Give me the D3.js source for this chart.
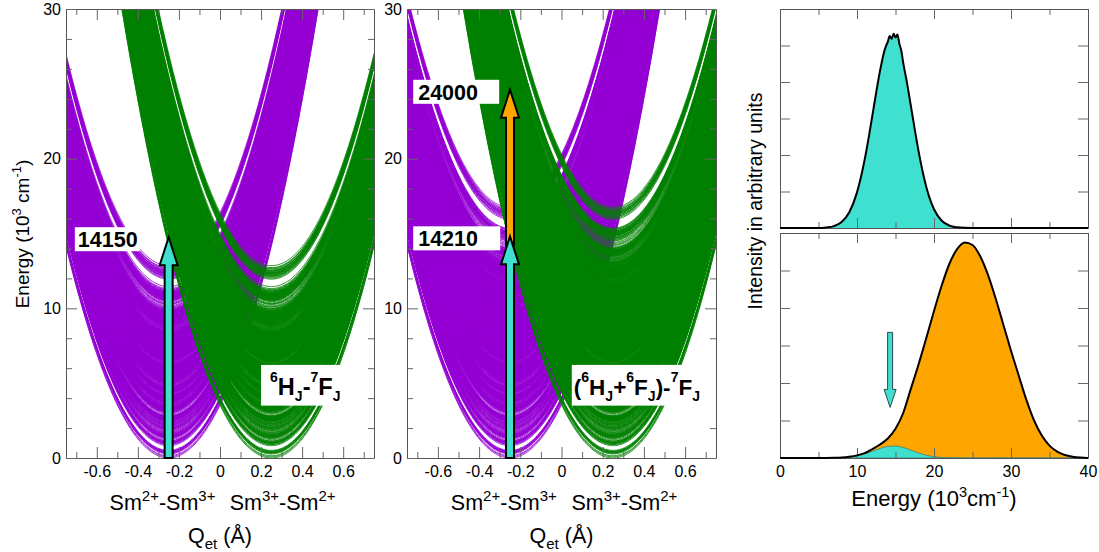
<!DOCTYPE html>
<html><head><meta charset="utf-8">
<script src="https://cdn.jsdelivr.net/npm/d3@7"></script>
<style>
body{margin:0;background:#fff;}
svg text{font-family:"Liberation Sans",Arial,Helvetica,sans-serif;}
</style></head><body>
<svg id="chart" width="1099" height="552"></svg>
<script>
// ---------------- data ----------------
// crystal-field levels, 10^3 cm^-1
const sm3Levels6H = [0.00,0.08,0.15, 1.02,1.08,1.14,1.22, 2.20,2.26,2.31,2.38,2.45,
  3.52,3.58,3.63,3.70,3.76,3.84, 4.95,5.01,5.06,5.13,5.19,5.26,5.35,
  6.40,6.46,6.52,6.60,6.66,6.73,6.82,6.95];
const sm3Levels6F = [6.30, 6.55,6.62, 7.05,7.10,7.18, 7.95,8.00,8.08,8.15,
  9.15,9.20,9.28,9.35,9.42, 10.40,10.48,10.56,10.65,10.75,10.85];
const sm2Levels7F = [0.00, 0.27,0.31,0.36, 0.82,0.90,0.98, 1.48,1.58,1.70,
  2.18,2.32,2.48, 2.98,3.15,3.35, 3.85,4.15,4.50, 5.55,5.72,5.90];
const qMinPurple = -0.25, qMinGreen = 0.25;          // Å
const verticalLeft = 14.15, verticalMiddle = 14.21, upperMiddle = 24.0;
const arrowLabels = ["14150", "14210", "24000"];
const qDomain = [-0.75, 0.75], energyDomain = [0, 30];
const qTicksMajor = [-0.6,-0.4,-0.2,0,0.2,0.4,0.6];
const qTicksMinor = [-0.7,-0.5,-0.3,-0.1,0.1,0.3,0.5,0.7];
const eTicksMajor = [0,10,20,30];
const eTicksMinor = [2,4,6,8,12,14,16,18,22,24,26,28];

// spectra
const specEnergyTop = [0,5,6,7,8,9,10,10.5,11,11.5,12,12.5,13,13.5,13.75,14,14.25,14.5,14.75,15,15.25,15.5,15.75,16,16.5,17,17.5,18,18.5,19,19.5,20,21,22,23,24,25,40];
const specIntensityTop = [0,0,0.014,0.052,0.163,0.431,0.976,1.381,1.879,2.457,3.086,3.724,4.318,4.811,4.98,5.10,5.26,5.18,5.32,5.22,5.30,5.05,4.86,4.53,3.97,3.34,2.70,2.10,1.57,1.126,0.776,0.514,0.200,0.066,0.019,0.004,0,0];
const specEnergyBottom = [0,5,6,7,8,9,10,11,12,13,14,15,16,17,18,19,20,21,22,23,24,25,26,27,28,29,30,31,32,33,34,35,36,37,38,39,40];
const specTotalBottom = [0,0,0.001,0.005,0.015,0.035,0.07,0.13,0.24,0.36,0.52,0.78,1.2,1.85,2.5,3.2,3.92,4.6,5.18,5.57,5.75,5.68,5.38,4.89,4.26,3.56,2.86,2.2,1.55,1.0,0.6,0.33,0.17,0.08,0.035,0.012,0.003];
const specCyanBottom = [0,0,0.0008,0.0028,0.0088,0.024,0.055,0.107,0.179,0.254,0.308,0.318,0.280,0.210,0.134,0.073,0.034,0.013,0.0045,0.0013,0,0,0,0,0,0,0,0,0,0,0,0,0,0,0,0,0];
const specMarker = {energy: 14.3, from: 3.35, to: 1.35};
const specTicksMajor = [0,10,20,30,40], specTicksMinor = [5,15,25,35];
const intensityDomain = [0, 6], intensityTicks = [1,2,3,4,5];

// ---------------- drawing ----------------
const FONT = '"Liberation Sans",Arial,Helvetica,sans-serif';
const PURPLE = "#9400d3", GREEN = "#008000", CYAN = "#40e0d0", ORANGE = "#ffa500";
const svg = d3.select("#chart");
const defs = svg.append("defs");

function styleAxis(g, fontSize) {
  g.attr("font-family", null).attr("font-size", null);
  g.select(".domain").attr("stroke", "#555").attr("stroke-width", 1);
  g.selectAll(".tick line").attr("stroke", "#666").attr("stroke-width", 1);
  g.selectAll(".tick text").attr("fill", "#000").style("font-size", fontSize + "px").style("font-family", FONT);
}
function frameAxes(g, x, y, xMaj, xMin, yMaj, yMin, opts) {
  const [x0, x1] = x.range(), [y1, y0] = y.range();
  const mk = (fn, sc, vals, size, fmt, pad) => fn(sc).tickValues(vals).tickSizeInner(-size).tickSizeOuter(0).tickPadding(pad || 8).tickFormat(fmt || (() => ""));
  const fs = opts.fontSize;
  if (xMin) {
    g.append("g").attr("transform", `translate(0,${y1})`).call(mk(d3.axisBottom, x, xMin, opts.minor)).call(s => { styleAxis(s, fs); s.select(".domain").remove(); });
    g.append("g").attr("transform", `translate(0,${y0})`).call(mk(d3.axisTop, x, xMin, opts.minor)).call(s => { styleAxis(s, fs); s.select(".domain").remove(); });
  }
  if (yMin) {
    g.append("g").attr("transform", `translate(${x0},0)`).call(mk(d3.axisLeft, y, yMin, opts.minor)).call(s => { styleAxis(s, fs); s.select(".domain").remove(); });
    g.append("g").attr("transform", `translate(${x1},0)`).call(mk(d3.axisRight, y, yMin, opts.minor)).call(s => { styleAxis(s, fs); s.select(".domain").remove(); });
  }
  g.append("g").attr("transform", `translate(0,${y1})`).call(mk(d3.axisBottom, x, xMaj, opts.major, opts.xLabels ? (d => String(d)) : null, 8)).call(s => styleAxis(s, fs));
  g.append("g").attr("transform", `translate(0,${y0})`).call(mk(d3.axisTop, x, xMaj, opts.major)).call(s => styleAxis(s, fs));
  g.append("g").attr("transform", `translate(${x0},0)`).call(mk(d3.axisLeft, y, yMaj, opts.major, opts.yLabels ? (d => String(d)) : null, 5)).call(s => styleAxis(s, fs));
  g.append("g").attr("transform", `translate(${x1},0)`).call(mk(d3.axisRight, y, yMaj, opts.major)).call(s => styleAxis(s, fs));
}

function richText(sel, parts, big, small, supShift, subShift) {
  let cur = 0;
  parts.forEach(p => {
    const target = p.s === "sup" ? -supShift : p.s === "sub" ? subShift : 0;
    sel.append("tspan").attr("dy", target - cur).style("font-size", (p.s ? small : big) + "px").text(p.t);
    cur = target;
  });
}

function arrowD(cx, yBase, yTip, sw, hw, hl) {
  const p = d3.path();
  const dir = yTip < yBase ? 1 : -1;
  const yh = yTip + dir * hl;
  p.moveTo(cx - sw, yBase); p.lineTo(cx - sw, yh); p.lineTo(cx - hw, yh);
  p.lineTo(cx, yTip); p.lineTo(cx + hw, yh); p.lineTo(cx + sw, yh); p.lineTo(cx + sw, yBase);
  p.closePath();
  return p.toString();
}

function drawPES(cfg) {
  const x = d3.scaleLinear().domain(qDomain).range([cfg.x0, cfg.x1]);
  const y = d3.scaleLinear().domain(energyDomain).range([458, 9]);
  const g = svg.append("g");
  const clipId = "clip-" + cfg.id;
  defs.append("clipPath").attr("id", clipId).append("rect")
    .attr("x", cfg.x0).attr("y", 9).attr("width", cfg.x1 - cfg.x0).attr("height", 449);
  const k = cfg.vertical / Math.pow(qMinGreen - qMinPurple, 2);   // force constant
  const line = d3.line().x(d => x(d[0])).y(d => y(d[1]));
  if (line.digits) line.digits(1);
  const minima = [];
  cfg.sm3.forEach(a => sm2Levels7F.forEach(b => minima.push(a + b)));
  function curve(q0, e0) {
    const half = Math.sqrt((31 - e0) / k);
    const a = Math.max(-0.77, q0 - half), b = Math.min(0.77, q0 + half);
    const n = Math.ceil((b - a) / 0.012);
    const pts = d3.range(n + 1).map(i => { const q = a + (b - a) * i / n; return [q, e0 + k * (q - q0) * (q - q0)]; });
    return line(pts);
  }
  const cg = g.append("g").attr("clip-path", `url(#${clipId})`);
  [[qMinPurple, PURPLE], [qMinGreen, GREEN]].forEach(([q0, col]) => {
    cg.append("path").attr("d", minima.map(e => curve(q0, e)).join(""))
      .attr("fill", "none").attr("stroke", col).attr("stroke-width", 0.8);
  });
  frameAxes(g, x, y, qTicksMajor, qTicksMinor, eTicksMajor, eTicksMinor,
    {major: 11, minor: 6, fontSize: 16, xLabels: true, yLabels: true});

  const ag = g.append("g");
  cfg.arrows.forEach(a => {
    ag.append("path").attr("d", arrowD(x(qMinPurple), y(a.from), y(a.to) - 9, 4, 9, 28))
      .attr("fill", a.color).attr("stroke", "#000").attr("stroke-width", 2).attr("stroke-linejoin", "miter");
  });
  cfg.labels.forEach(l => {
    const yy = y(l.value);
    g.append("rect").attr("x", x(l.q)).attr("y", yy - 19).attr("width", l.w).attr("height", 24).attr("fill", "#fff");
    g.append("text").attr("x", x(l.q) + l.pad).attr("y", yy + 1).style("font-size", "21.5px").style("font-weight", "bold")
      .attr("fill", "#000").text(l.text);
  });
  const sl = cfg.stateLabel;
  g.append("rect").attr("x", x(sl.q0)).attr("y", y(sl.e1)).attr("width", x(sl.q1) - x(sl.q0)).attr("height", y(sl.e0) - y(sl.e1)).attr("fill", "#fff");
  const st = g.append("text").attr("x", x(sl.q0) + sl.pad).attr("y", 395).style("font-weight", "bold").attr("fill", "#000");
  richText(st, sl.parts, sl.size, 14, 13, 6);

  const t1 = g.append("text").attr("x", x(-0.28)).attr("y", 510).attr("text-anchor", "middle").attr("fill", "#000");
  richText(t1, [{t: "Sm"}, {t: "2+", s: "sup"}, {t: "-Sm"}, {t: "3+", s: "sup"}], 21.5, 15, 9, 0);
  const t2 = g.append("text").attr("x", x(0.305)).attr("y", 510).attr("text-anchor", "middle").attr("fill", "#000");
  richText(t2, [{t: "Sm"}, {t: "3+", s: "sup"}, {t: "-Sm"}, {t: "2+", s: "sup"}], 21.5, 15, 9, 0);
  const t3 = g.append("text").attr("x", x(0)).attr("y", 543).attr("text-anchor", "middle").attr("fill", "#000");
  richText(t3, [{t: "Q"}, {t: "et", s: "sub"}, {t: " (Å)"}], 21.5, 15, 0, 6);
}

drawPES({
  id: "left", x0: 66, x1: 374, sm3: sm3Levels6H, vertical: verticalLeft,
  arrows: [{from: 0, to: verticalLeft, color: CYAN}],
  labels: [{text: arrowLabels[0], value: verticalLeft, q: -0.707, w: 65, pad: 3}],
  stateLabel: {q0: 0.2, q1: 0.607, e0: 3.5, e1: 6.22, pad: 9, size: 23.5,
    parts: [{t: "6", s: "sup"}, {t: "H"}, {t: "J", s: "sub"}, {t: "-"}, {t: "7", s: "sup"}, {t: "F"}, {t: "J", s: "sub"}]}
});
drawPES({
  id: "mid", x0: 407, x1: 716, sm3: sm3Levels6H.concat(sm3Levels6F), vertical: verticalMiddle,
  arrows: [{from: verticalMiddle, to: upperMiddle, color: ORANGE}, {from: 0, to: verticalMiddle, color: CYAN}],
  labels: [{text: arrowLabels[2], value: upperMiddle, q: -0.72, w: 86, pad: 5},
           {text: arrowLabels[1], value: verticalMiddle, q: -0.72, w: 87, pad: 5}],
  stateLabel: {q0: 0.05, q1: 0.75, e0: 3.5, e1: 6.22, pad: 2, size: 22.5,
    parts: [{t: "("}, {t: "6", s: "sup"}, {t: "H"}, {t: "J", s: "sub"}, {t: "+"}, {t: "6", s: "sup"}, {t: "F"}, {t: "J", s: "sub"},
            {t: ")-"}, {t: "7", s: "sup"}, {t: "F"}, {t: "J", s: "sub"}]}
});

const ly = svg.append("text").attr("transform", "translate(29,234) rotate(-90)").attr("text-anchor", "middle").attr("fill", "#000");
richText(ly, [{t: "Energy (10"}, {t: "3", s: "sup"}, {t: " cm"}, {t: "-1", s: "sup"}, {t: ")"}], 19, 13, 8, 0);

// ---------------- spectra ----------------
const xs = d3.scaleLinear().domain([0, 40]).range([780, 1088]);
const yTop = d3.scaleLinear().domain(intensityDomain).range([228, 9]);
const yBot = d3.scaleLinear().domain(intensityDomain).range([458, 233]);
const topData = specEnergyTop.map((e, i) => [e, specIntensityTop[i]]);
const botTotal = specEnergyBottom.map((e, i) => [e, specTotalBottom[i]]);
const botCyan = specEnergyBottom.map((e, i) => [e, specCyanBottom[i]]);

const gt = svg.append("g");
const areaT = d3.area().x(d => xs(d[0])).y0(yTop(0)).y1(d => yTop(d[1])).curve(d3.curveMonotoneX);
const lineT = d3.line().x(d => xs(d[0])).y(d => yTop(d[1])).curve(d3.curveMonotoneX);
gt.append("path").attr("d", areaT(topData)).attr("fill", CYAN);
frameAxes(gt, xs, yTop, specTicksMajor, specTicksMinor, intensityTicks, null, {major: 10, minor: 6, fontSize: 16});
gt.append("path").attr("d", lineT(topData)).attr("fill", "none").attr("stroke", "#000").attr("stroke-width", 2);

const gb = svg.append("g");
const areaB = d3.area().x(d => xs(d[0])).y0(yBot(0)).y1(d => yBot(d[1])).curve(d3.curveMonotoneX);
const lineB = d3.line().x(d => xs(d[0])).y(d => yBot(d[1])).curve(d3.curveMonotoneX);
gb.append("path").attr("d", areaB(botTotal)).attr("fill", ORANGE);
gb.append("path").attr("d", areaB(botCyan)).attr("fill", CYAN).attr("stroke", "#3a8078").attr("stroke-width", 0.8);
frameAxes(gb, xs, yBot, specTicksMajor, specTicksMinor, intensityTicks, null, {major: 10, minor: 6, fontSize: 16, xLabels: true});
gb.append("path").attr("d", lineB(botTotal)).attr("fill", "none").attr("stroke", "#000").attr("stroke-width", 2);
gb.append("path").attr("d", arrowD(xs(specMarker.energy), yBot(specMarker.from), yBot(specMarker.to), 2.5, 6, 18))
  .attr("fill", CYAN).attr("stroke", "#2b4a47").attr("stroke-width", 1);

svg.append("text").attr("transform", "translate(762,201) rotate(-90)").attr("text-anchor", "middle")
  .attr("fill", "#000").style("font-size", "19.5px").text("Intensity in arbitrary units");
const rx = svg.append("text").attr("x", xs(20)).attr("y", 506).attr("text-anchor", "middle").attr("fill", "#000");
richText(rx, [{t: "Energy (10"}, {t: "3", s: "sup"}, {t: "cm"}, {t: "-1", s: "sup"}, {t: ")"}], 22, 14.5, 9, 0);
</script>
</body></html>
